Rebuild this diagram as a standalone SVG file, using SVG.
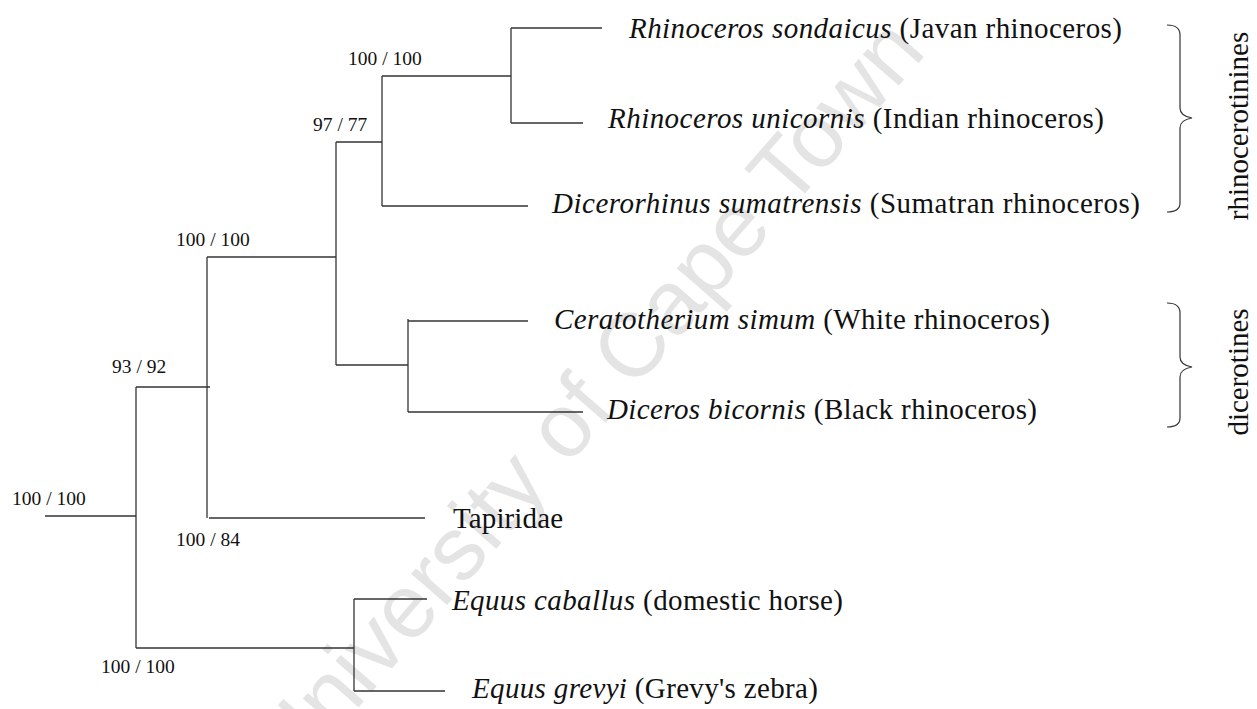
<svg xmlns="http://www.w3.org/2000/svg" width="1257" height="709" viewBox="0 0 1257 709">
<style>
.wm{font-family:"Liberation Sans",Arial,sans-serif;font-size:90px;fill:#e4e4e4}
.leaf{font-family:"Liberation Serif","Times New Roman",serif;font-size:29px;fill:#111}
.sup{font-family:"Liberation Serif","Times New Roman",serif;font-size:19.5px;fill:#111}
.grp{font-family:"Liberation Serif","Times New Roman",serif;font-size:29px;fill:#111}
.it{font-style:italic}
.br{fill:none;stroke:#333;stroke-width:1.2}
#connectors line{stroke:#333;stroke-width:1.3}
</style>
<rect width="1257" height="709" fill="#fff"/>
<text class="wm" transform="translate(292,783.5) rotate(-49)">University of Cape Town</text>
<g id="connectors">
<line x1="45" y1="516" x2="136" y2="516"/>
<line x1="136" y1="387" x2="136" y2="648"/>
<line x1="136" y1="387" x2="210" y2="387"/>
<line x1="207" y1="257" x2="207" y2="518"/>
<line x1="207" y1="257" x2="336" y2="257"/>
<line x1="209" y1="518" x2="425" y2="518"/>
<line x1="336" y1="142" x2="336" y2="365"/>
<line x1="336" y1="142" x2="382" y2="142"/>
<line x1="382" y1="76" x2="382" y2="206"/>
<line x1="382" y1="76" x2="511" y2="76"/>
<line x1="511" y1="28" x2="511" y2="123"/>
<line x1="511" y1="28" x2="602" y2="28"/>
<line x1="511" y1="123" x2="583" y2="123"/>
<line x1="382" y1="206" x2="528" y2="206"/>
<line x1="336" y1="365" x2="408" y2="365"/>
<line x1="408" y1="319" x2="408" y2="412"/>
<line x1="408" y1="321" x2="528" y2="321"/>
<line x1="408" y1="412" x2="583" y2="412"/>
<line x1="136" y1="648" x2="354" y2="648"/>
<line x1="354" y1="599" x2="354" y2="691"/>
<line x1="354" y1="599" x2="427" y2="599"/>
<line x1="354" y1="691" x2="445" y2="691"/>
</g>
<g id="supports">
<text class="sup" x="348" y="65">100 / 100</text>
<text class="sup" x="313" y="131">97 / 77</text>
<text class="sup" x="176" y="246">100 / 100</text>
<text class="sup" x="112" y="373">93 / 92</text>
<text class="sup" x="12" y="505">100 / 100</text>
<text class="sup" x="176" y="546">100 / 84</text>
<text class="sup" x="101" y="673">100 / 100</text>
</g>
<g id="leaf-sondaicus"><text class="leaf" x="629" y="38" textLength="493" lengthAdjust="spacing"><tspan class="it">Rhinoceros sondaicus</tspan> (Javan rhinoceros)</text></g>
<g id="leaf-unicornis"><text class="leaf" x="608" y="128" textLength="496" lengthAdjust="spacing"><tspan class="it">Rhinoceros unicornis</tspan>  (Indian rhinoceros)</text></g>
<g id="leaf-sumatrensis"><text class="leaf" x="552" y="213" textLength="588" lengthAdjust="spacing"><tspan class="it">Dicerorhinus sumatrensis</tspan> (Sumatran rhinoceros)</text></g>
<g id="leaf-simum"><text class="leaf" x="554" y="329" textLength="496" lengthAdjust="spacing"><tspan class="it">Ceratotherium simum</tspan>  (White rhinoceros)</text></g>
<g id="leaf-bicornis"><text class="leaf" x="607" y="419" textLength="430" lengthAdjust="spacing"><tspan class="it">Diceros bicornis</tspan> (Black rhinoceros)</text></g>
<g id="leaf-tapiridae"><text class="leaf" x="453" y="528" textLength="110" lengthAdjust="spacing">Tapiridae</text></g>
<g id="leaf-caballus"><text class="leaf" x="452" y="610" textLength="391" lengthAdjust="spacing"><tspan class="it">Equus caballus</tspan> (domestic horse)</text></g>
<g id="leaf-grevyi"><text class="leaf" x="472" y="698" textLength="346" lengthAdjust="spacing"><tspan class="it">Equus grevyi</tspan> (Grevy's zebra)</text></g>
<g id="group-rhinocerotinines">
<path class="br" d="M1167,25 C1175,25 1180,28 1180,35 L1180,108 C1180,114 1186,117 1192,118 C1186,119 1180,122 1180,128 L1180,203 C1180,209 1175,212 1167,212"/>
<text class="grp" transform="translate(1248,126) rotate(-90)" text-anchor="middle">rhinocerotinines</text>
</g>
<g id="group-dicerotines">
<path class="br" d="M1167,303 C1175,303 1180,306 1180,313 L1180,357 C1180,363 1186,366 1192,367 C1186,368 1180,371 1180,377 L1180,418 C1180,424 1175,427 1167,427"/>
<text class="grp" transform="translate(1248,372) rotate(-90)" text-anchor="middle">dicerotines</text>
</g>
</svg>
